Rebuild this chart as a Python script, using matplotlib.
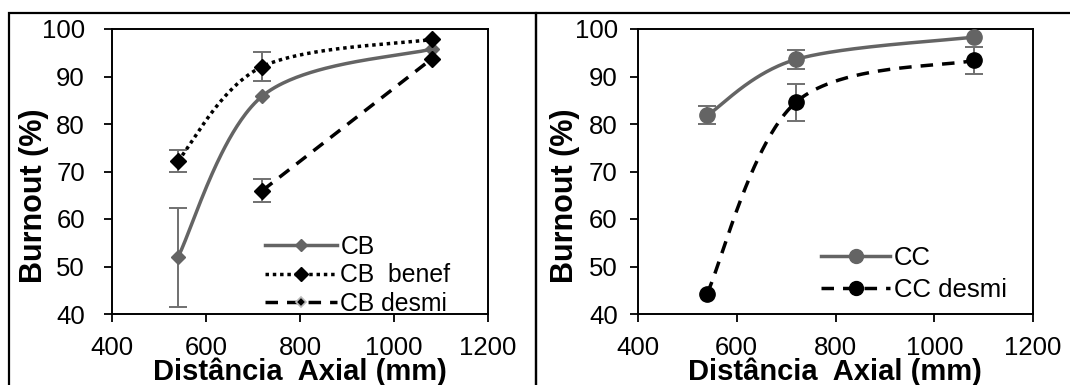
import numpy as np
import matplotlib
matplotlib.use('Agg')
import matplotlib.pyplot as plt
from matplotlib.lines import Line2D
from matplotlib.patches import Rectangle

plt.rcParams['font.family'] = ['Liberation Sans', 'DejaVu Sans']

# ── Data ─────────────────────────────────────────────────────────────────────
dist = [540, 720, 1080]

cb       = [51.9, 85.9, 95.8]
cb_err   = [10.5, 0.0, 0.0]
cb_benef = [72.2, 92.1, 97.8]
cb_benef_err = [2.4, 3.0, 0.0]
dist_desmi_cb = [720, 1080]
cb_desmi = [66.0, 93.7]
cb_desmi_err = [2.4, 0.0]

cc       = [81.8, 93.6, 98.3]
cc_err   = [1.9, 2.0, 0.0]
cc_desmi = [44.3, 84.6, 93.4]
cc_desmi_err = [0.0, 3.9, 2.8]

GRAY = '#646464'
EGRAY = '#707070'
W, H = 1070, 385
LW = 2.5
DOT = (0, (1, 1.1))
DASH = (0, (3.6, 2.6))


def excel_smooth(x, y, n=80):
    """Bezier smoothing like Excel's 'smoothed line' (Catmull-Rom, tension 1/6)."""
    pts = np.column_stack([x, y]).astype(float)
    out = [pts[:1]]
    for i in range(len(pts) - 1):
        p0 = pts[max(i - 1, 0)]
        p1 = pts[i]
        p2 = pts[i + 1]
        p3 = pts[min(i + 2, len(pts) - 1)]
        c1 = p1 + (p2 - p0) / 6
        c2 = p2 - (p3 - p1) / 6
        t = np.linspace(0, 1, n)[1:, None]
        seg = ((1 - t) ** 3 * p1 + 3 * (1 - t) ** 2 * t * c1
               + 3 * (1 - t) * t ** 2 * c2 + t ** 3 * p2)
        out.append(seg)
    s = np.vstack(out)
    return s[:, 0], s[:, 1]


def series(ax, x, y, err, color, ls, marker, ms):
    e = np.array(err)
    xs = np.array(x)[e > 0]
    ys = np.array(y)[e > 0]
    ax.errorbar(xs, ys, yerr=e[e > 0], fmt='none', ecolor=EGRAY,
                elinewidth=1.4, capsize=6.5, capthick=1.4, zorder=2)
    sx, sy = excel_smooth(x, y)
    ax.plot(sx, sy, color=color, lw=LW, linestyle=ls, zorder=3)
    ax.plot(x, y, linestyle='none', marker=marker, ms=ms, color=color, zorder=4)


def style_axes(ax, ypad):
    ax.set_xlim(400, 1200)
    ax.set_ylim(40, 100)
    ax.set_xticks([400, 600, 800, 1000, 1200])
    ax.set_yticks([40, 50, 60, 70, 80, 90, 100])
    for s in ax.spines.values():
        s.set_linewidth(1.4)
    ax.tick_params(axis='both', direction='out', length=5.5, width=1.3,
                   labelsize=18.5)
    ax.tick_params(axis='x', pad=10)
    ax.tick_params(axis='y', pad=ypad)


fig = plt.figure(figsize=(W / 100, H / 100), dpi=100)

# panel frames
fig.patches.append(Rectangle((9 / W, -0.05), (536 - 9) / W, 1.05 - 13.5 / H,
                             transform=fig.transFigure, fill=False,
                             lw=1.6, ec='black', clip_on=False))
fig.patches.append(Rectangle((536 / W, -0.05), 0.6, 1.05 - 13.5 / H,
                             transform=fig.transFigure, fill=False,
                             lw=1.6, ec='black', clip_on=False))

ax1 = fig.add_axes([112 / W, 1 - 314 / H, (488 - 112) / W, (314 - 29) / H])
ax2 = fig.add_axes([638 / W, 1 - 314 / H, (1033 - 638) / W, (314 - 29) / H])

# ── Left panel: CB ───────────────────────────────────────────────────────────
series(ax1, dist, cb, cb_err, GRAY, '-', 'D', 7.5)
series(ax1, dist, cb_benef, cb_benef_err, 'black', DOT, 'D', 8)
series(ax1, dist_desmi_cb, cb_desmi, cb_desmi_err, 'black', DASH, 'D', 8)
style_axes(ax1, 14)

h1 = [Line2D([], [], color=GRAY, lw=LW, marker='D', ms=6.5),
      Line2D([], [], color='black', lw=LW, ls=DOT, marker='D', ms=7.5),
      Line2D([], [], color='black', lw=LW, ls=DASH, marker='D', ms=5.5,
             mfc='black', mec='#bbbbbb', mew=1.2)]
ax1.legend(h1, ['CB', 'CB  benef', 'CB desmi'], loc='upper left',
           bbox_to_anchor=(265 / W, 1 - 235 / H), bbox_transform=fig.transFigure,
           frameon=False, fontsize=17.8, handlelength=2.9, handletextpad=0.15,
           labelspacing=0.18, borderpad=0, borderaxespad=0)

# ── Right panel: CC ──────────────────────────────────────────────────────────
series(ax2, dist, cc, cc_err, GRAY, '-', 'o', 11)
series(ax2, dist, cc_desmi, cc_desmi_err, 'black', DASH, 'o', 11)
style_axes(ax2, 9)

h2 = [Line2D([], [], color=GRAY, lw=LW, marker='o', ms=10),
      Line2D([], [], color='black', lw=LW, ls=DASH, marker='o', ms=10)]
ax2.legend(h2, ['CC', 'CC desmi'], loc='upper left',
           bbox_to_anchor=(821 / W, 1 - 246 / H), bbox_transform=fig.transFigure,
           frameon=False, fontsize=18.5, handlelength=2.7, handletextpad=0.15,
           labelspacing=0.3, borderpad=0, borderaxespad=0)

# ── Axis titles ──────────────────────────────────────────────────────────────
for xc in (300, 835):
    fig.text(xc / W, 5 / H, 'Distância  Axial (mm)', ha='center', va='baseline',
             fontsize=21, fontweight='bold')
for xc in (34, 565):
    fig.text(xc / W, 1 - 196 / H, 'Burnout (%)', ha='center', va='center',
             rotation=90, fontsize=22, fontweight='bold')

fig.savefig('out.png', dpi=100)
